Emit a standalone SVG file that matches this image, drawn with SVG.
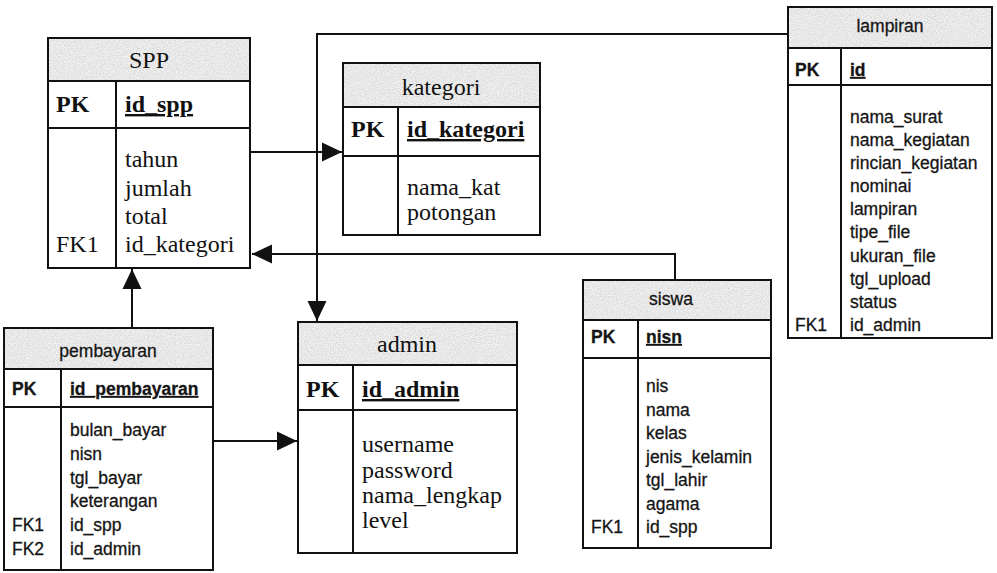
<svg xmlns="http://www.w3.org/2000/svg" width="997" height="573" viewBox="0 0 997 573">
  <style>
    .box { fill: #ffffff; stroke: #111; stroke-width: 2; }
    .head { fill: #d0d0d0; stroke: none; filter: url(#grain); }
    .ln { stroke: #111; stroke-width: 2; fill: none; }
    .serif { font-family: "Liberation Serif", "Times New Roman", serif; font-size: 24px; fill: #111; }
    .sans { font-family: "Liberation Sans", Arial, sans-serif; font-size: 17.5px; fill: #151515; stroke: #151515; stroke-width: 0.3; }
    .b { font-weight: bold; }
    .u { text-decoration: underline; }
    .c { text-anchor: middle; }
    .conn { stroke: #111; stroke-width: 2; fill: none; marker-end: url(#arrow); }
  </style>
  <defs>
    <marker id="arrow" markerUnits="userSpaceOnUse" markerWidth="20" markerHeight="20" refX="20" refY="9.5" orient="auto" viewBox="0 0 20 19">
      <path d="M0,0 L20,9.5 L0,19 Z" fill="#111"/>
    </marker>
    <!-- speckled grey for table headers -->
    <filter id="grain" x="0" y="0" width="100%" height="100%">
      <feTurbulence type="fractalNoise" baseFrequency="0.85" numOctaves="2" seed="7" result="noise"/>
      <feColorMatrix in="noise" type="matrix" values="0.45 0 0 0 0.58  0.45 0 0 0 0.58  0.45 0 0 0 0.58  0 0 0 0 1" result="grey"/>
      <feComposite in="grey" in2="SourceGraphic" operator="in"/>
    </filter>
  </defs>
  <rect width="997" height="573" fill="#ffffff"/>

  <!-- connectors -->
  <g id="connectors">
    <path class="conn" d="M250,152 H342"/>
    <path class="conn" d="M787,34 H317 V321"/>
    <path class="conn" d="M675,280 V254 H252"/>
    <path class="conn" d="M132,328 V269"/>
    <path class="conn" d="M213,441 H297"/>
  </g>

  <!-- SPP -->
  <g id="spp">
    <rect class="box" x="48" y="38" width="202" height="230"/>
    <rect class="head" x="49" y="39" width="200" height="42"/>
    <path class="ln" d="M48,81 H250 M48,128 H250 M116,81 V268"/>
    <text class="serif c" x="149" y="68">SPP</text>
    <text class="serif b" x="56" y="112">PK</text>
    <text class="serif b u" x="125" y="112">id_spp</text>
    <text class="serif" x="125" y="167">tahun</text>
    <text class="serif" x="125" y="195.5">jumlah</text>
    <text class="serif" x="125" y="224">total</text>
    <text class="serif" x="125" y="252">id_kategori</text>
    <text class="serif" x="56" y="252">FK1</text>
  </g>

  <!-- kategori -->
  <g id="kategori">
    <rect class="box" x="343" y="63" width="197" height="172"/>
    <rect class="head" x="344" y="64" width="195" height="43"/>
    <path class="ln" d="M343,107 H540 M343,156 H540 M398,107 V235"/>
    <text class="serif c" x="441" y="95">kategori</text>
    <text class="serif b" x="351" y="137">PK</text>
    <text class="serif b u" x="407" y="137">id_kategori</text>
    <text class="serif" x="407" y="195">nama_kat</text>
    <text class="serif" x="407" y="220">potongan</text>
  </g>

  <!-- lampiran -->
  <g id="lampiran">
    <rect class="box" x="788" y="7" width="204" height="331"/>
    <rect class="head" x="789" y="8" width="202" height="40"/>
    <path class="ln" d="M788,48 H992 M788,85 H992 M841,48 V338"/>
    <text class="sans c" x="890" y="32">lampiran</text>
    <text class="sans b" x="795" y="76">PK</text>
    <text class="sans b u" x="850" y="76">id</text>
    <text class="sans" x="850" y="123">nama_surat</text>
    <text class="sans" x="850" y="146">nama_kegiatan</text>
    <text class="sans" x="850" y="169">rincian_kegiatan</text>
    <text class="sans" x="850" y="192">nominai</text>
    <text class="sans" x="850" y="215">lampiran</text>
    <text class="sans" x="850" y="238">tipe_file</text>
    <text class="sans" x="850" y="262">ukuran_file</text>
    <text class="sans" x="850" y="285">tgl_upload</text>
    <text class="sans" x="850" y="308">status</text>
    <text class="sans" x="850" y="331">id_admin</text>
    <text class="sans" x="795" y="331">FK1</text>
  </g>

  <!-- pembayaran -->
  <g id="pembayaran">
    <rect class="box" x="4" y="328" width="209" height="242"/>
    <rect class="head" x="5" y="329" width="207" height="40"/>
    <path class="ln" d="M4,369 H213 M4,407 H213 M61,369 V570"/>
    <text class="sans c" x="108" y="357">pembayaran</text>
    <text class="sans b" x="12" y="395">PK</text>
    <text class="sans b u" x="70" y="395">id_pembayaran</text>
    <text class="sans" x="70" y="436">bulan_bayar</text>
    <text class="sans" x="70" y="460">nisn</text>
    <text class="sans" x="70" y="484">tgl_bayar</text>
    <text class="sans" x="70" y="507">keterangan</text>
    <text class="sans" x="70" y="531">id_spp</text>
    <text class="sans" x="70" y="555">id_admin</text>
    <text class="sans" x="12" y="531">FK1</text>
    <text class="sans" x="12" y="555">FK2</text>
  </g>

  <!-- admin -->
  <g id="admin">
    <rect class="box" x="298" y="322" width="219" height="231"/>
    <rect class="head" x="299" y="323" width="217" height="42"/>
    <path class="ln" d="M298,365 H517 M298,410 H517 M353,365 V553"/>
    <text class="serif c" x="407" y="352">admin</text>
    <text class="serif b" x="306" y="397">PK</text>
    <text class="serif b u" x="362" y="397">id_admin</text>
    <text class="serif" x="362" y="452">username</text>
    <text class="serif" x="362" y="477.5">password</text>
    <text class="serif" x="362" y="503">nama_lengkap</text>
    <text class="serif" x="362" y="528">level</text>
  </g>

  <!-- siswa -->
  <g id="siswa">
    <rect class="box" x="583" y="280" width="188" height="268"/>
    <rect class="head" x="584" y="281" width="186" height="39"/>
    <path class="ln" d="M583,320 H771 M583,358 H771 M638,320 V548"/>
    <text class="sans c" x="671" y="305">siswa</text>
    <text class="sans b" x="591" y="343">PK</text>
    <text class="sans b u" x="646" y="343">nisn</text>
    <text class="sans" x="646" y="392">nis</text>
    <text class="sans" x="646" y="415.5">nama</text>
    <text class="sans" x="646" y="439">kelas</text>
    <text class="sans" x="646" y="462.5">jenis_kelamin</text>
    <text class="sans" x="646" y="486">tgl_lahir</text>
    <text class="sans" x="646" y="509.5">agama</text>
    <text class="sans" x="646" y="533">id_spp</text>
    <text class="sans" x="591" y="533">FK1</text>
  </g>
</svg>
